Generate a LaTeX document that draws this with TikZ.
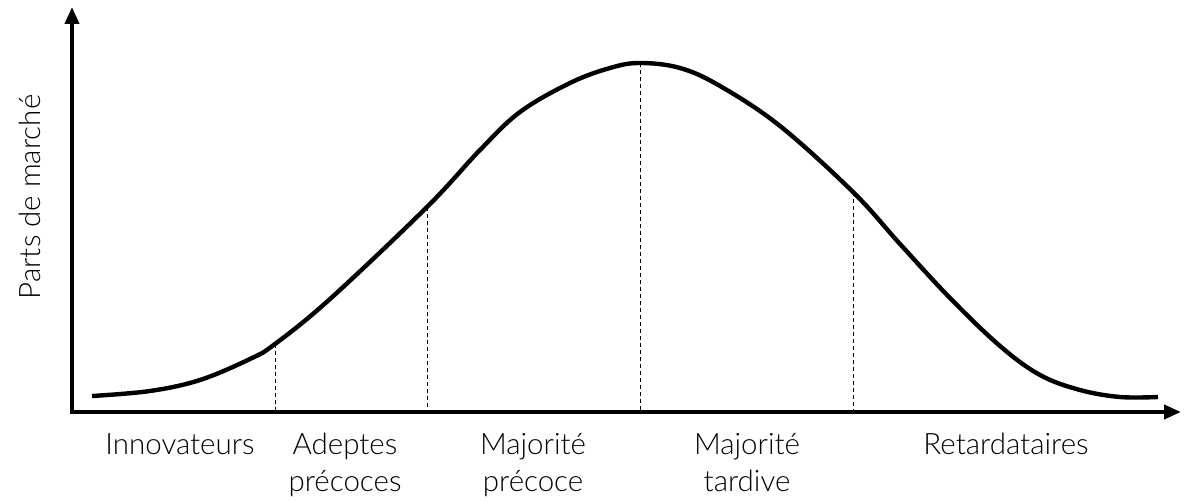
\documentclass[tikz,border=0pt]{standalone}
\usepackage{fontspec}
\setmainfont{Lato Light}
\usetikzlibrary{arrows.meta}
\begin{document}
\begin{tikzpicture}[x=1pt,y=-1pt,
  axis/.style={line width=4pt,-{Triangle[length=17pt,width=14pt]}},
  curve/.style={line width=4.4pt,line cap=butt},
  guide/.style={dashed,line width=0.8pt,dash pattern=on 4pt off 3pt},
  lbl/.style={font=\fontsize{29.5}{37}\selectfont,align=center,inner sep=0pt,text depth=0pt,anchor=south}]
\useasboundingbox (0,0) rectangle (1184,502);
\coordinate (O) at (72,412);
\coordinate (Y) at (72,7);
\coordinate (X) at (1181,412);
\draw[axis] (O) ++(0,2) -- (Y);
\draw[axis] (O) ++(-2,0) -- (X);
\coordinate (p1) at (275,344);
\coordinate (p2) at (427,207);
\coordinate (p3) at (640,63);
\coordinate (p4) at (853,192);
\draw[curve] plot[smooth,tension=0.6] coordinates {(92,396) (150,391) (200,380) (250,359) (p1) (330,299) (p2) (480,150) (520,112) (570,83) (610,68) (p3) (680,68) (720,86) (780,126) (p4) (900,244) (950,298) (1000,346) (1040,375) (1080,390) (1120,397) (1158,397)};
\foreach \i in {1,...,4} \draw[guide] (p\i) -- (p\i |- O);
\node[lbl] (n1) at (180,455) {Innovateurs};
\node[lbl] (n2) at (345,492) {Adeptes\\précoces};
\node[lbl] (n3) at (533,492) {Majorité\\précoce};
\node[lbl] (n4) at (747,492) {Majorité\\tardive};
\node[lbl] (n5) at (1006,455) {Retardataires};
\node[lbl,rotate=90,anchor=center,text depth=] (yl) at (30,197) {Parts de marché};
\end{tikzpicture}
\end{document}
